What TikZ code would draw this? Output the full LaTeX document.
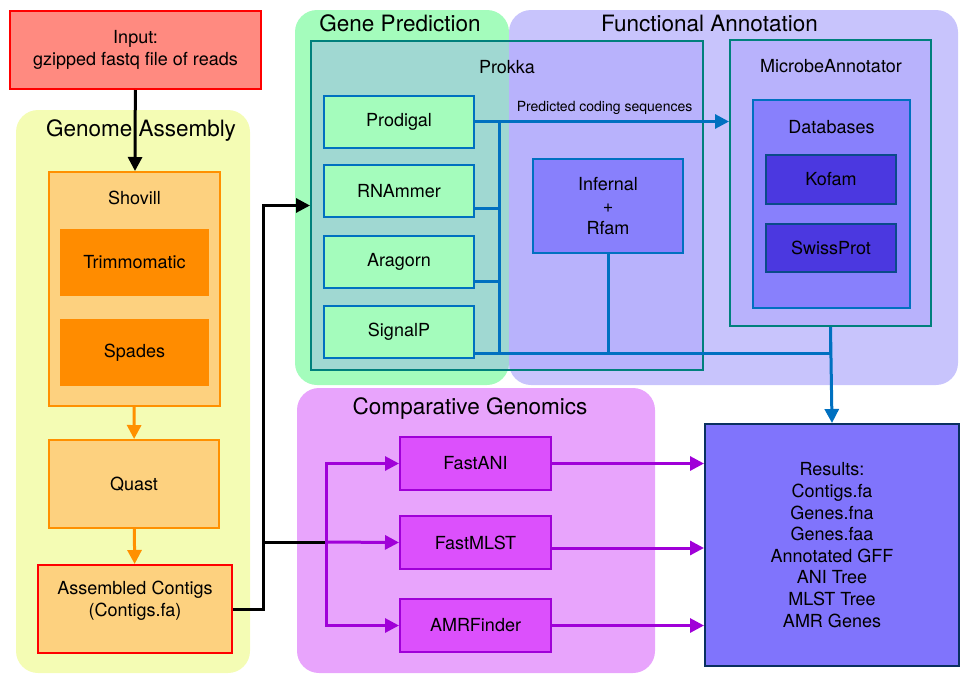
\documentclass[tikz,border=0pt]{standalone}
\usepackage{fontspec}
\setmainfont{TeX Gyre Heros}
\usetikzlibrary{arrows.meta}

\definecolor{inputfill}{HTML}{FF8A80}
\definecolor{asmfill}{HTML}{F4FCB4}
\definecolor{peach}{HTML}{FDD17F}
\definecolor{orangeline}{HTML}{FF9000}
\definecolor{darkorange}{HTML}{FF8C00}
\definecolor{genefill}{HTML}{A4FCBC}
\definecolor{funcfill}{HTML}{C8C4FC}
\definecolor{prokkafill}{HTML}{9890FF}
\definecolor{tealline}{HTML}{00807C}
\definecolor{blueline}{HTML}{0070C0}
\definecolor{infernalfill}{HTML}{8880FC}
\definecolor{dbfill}{HTML}{4B38E0}
\definecolor{dbline}{HTML}{0A4A8A}
\definecolor{compfill}{HTML}{E8A4FC}
\definecolor{toolfill}{HTML}{DC50FC}
\definecolor{purpleline}{HTML}{A000D8}
\definecolor{resultfill}{HTML}{8074FC}
\definecolor{navyline}{HTML}{0A3060}

\begin{document}
\begin{tikzpicture}[x=1pt, y=-1pt,
    box/.style={draw, line width=2pt, inner sep=0pt, align=center,
      font=\fontsize{18}{21.6}\selectfont},
    frame/.style={draw=tealline, line width=2pt, fill=prokkafill,
      fill opacity=0.33, inner sep=0pt},
    region/.style={rounded corners=22pt},
    grouptitle/.style={font=\fontsize{22.5}{27}\selectfont},
    caption/.style={align=center, font=\fontsize{18}{21.6}\selectfont},
    flowtip/.style={-{Triangle[length=14pt,width=14pt]}},
    blk/.style={line width=3pt, black},
    blu/.style={line width=3pt, blueline},
    prp/.style={line width=3pt, purpleline},
    org/.style={line width=3pt, orangeline}]
  \useasboundingbox (0,0) rectangle (979,683);

  % input
  \node[box, draw=red, fill=inputfill, minimum width=251pt, minimum height=78pt] (input) at (135.5,50) {Input:\\gzipped fastq file of reads};

  % genome assembly
  \fill[asmfill, region] (16,110) rectangle (250,673);
  \node[grouptitle] (asmtitle) at (141,131) {Genome Assembly};
  \node[box, draw=orangeline, fill=peach, minimum width=171pt, minimum height=234pt] (shovill) at (134.5,289) {};
  \node[caption] (shovilltitle) at (134.5,198) {Shovill};
  \node[box, draw=none, fill=darkorange, minimum width=149pt, minimum height=67pt] (trim) at (134.5,262.5) {Trimmomatic};
  \node[box, draw=none, fill=darkorange, minimum width=149pt, minimum height=67pt] (spades) at (134.5,352.5) {Spades};
  \node[box, draw=orangeline, fill=peach, minimum width=170pt, minimum height=88pt] (quast) at (134,484) {Quast};
  \node[box, draw=red, fill=peach, minimum width=194pt, minimum height=88pt] (contigs) at (135,609) {};
  \node[caption] (contigstext) at (135,601) {Assembled Contigs\\(Contigs.fa)};

  % gene prediction and functional annotation
  \fill[genefill, region] (295,10) rectangle (509,385);
  \fill[funcfill, region] (509,10) rectangle (958,385);
  \node[grouptitle] (genetitle) at (400,23) {Gene Prediction};
  \node[grouptitle] (functitle) at (709.5,23) {Functional Annotation};

  \node[frame, minimum width=392pt, minimum height=329pt] (prokka) at (507,205.5) {};
  \node[caption] (prokkatitle) at (507,67) {Prokka};
  \node[box, draw=blueline, fill=genefill, minimum width=150pt, minimum height=52pt] (prodigal) at (399,121.5) {Prodigal};
  \node[box, draw=blueline, fill=genefill, minimum width=150pt, minimum height=52pt] (rnammer) at (399,191) {RNAmmer};
  \node[box, draw=blueline, fill=genefill, minimum width=150pt, minimum height=52pt] (aragorn) at (399,262) {Aragorn};
  \node[box, draw=blueline, fill=genefill, minimum width=150pt, minimum height=52pt] (signalp) at (399,332) {SignalP};
  \node[box, draw=blueline, fill=infernalfill, minimum width=150pt, minimum height=94pt] (infernal) at (608,206) {Infernal\\+\\Rfam};

  \node[frame, minimum width=201pt, minimum height=286pt] (microbe) at (830.5,183) {};
  \node[caption] (microbetitle) at (831,66) {MicrobeAnnotator};
  \node[box, draw=blueline, fill=infernalfill, minimum width=157pt, minimum height=208pt] (databases) at (831.5,204) {};
  \node[caption] (dbtitle) at (831.5,127) {Databases};
  \node[box, draw=dbline, fill=dbfill, minimum width=130pt, minimum height=49pt] (kofam) at (831,179.5) {Kofam};
  \node[box, draw=dbline, fill=dbfill, minimum width=130pt, minimum height=48pt] (swissprot) at (831,248) {SwissProt};

  % comparative genomics
  \fill[compfill, region] (297,388) rectangle (655,673);
  \node[grouptitle] (comptitle) at (470,409) {Comparative Genomics};
  \node[box, draw=purpleline, fill=toolfill, minimum width=151pt, minimum height=53pt] (fastani) at (475.5,463.5) {FastANI};
  \node[box, draw=purpleline, fill=toolfill, minimum width=151pt, minimum height=53pt] (fastmlst) at (475.5,542.5) {FastMLST};
  \node[box, draw=purpleline, fill=toolfill, minimum width=151pt, minimum height=53pt] (amrfinder) at (475.5,625.5) {AMRFinder};

  % results
  \node[box, draw=navyline, fill=resultfill, minimum width=254pt, minimum height=242pt] (results) at (832,545) {Results:\\Contigs.fa\\Genes.fna\\Genes.faa\\Annotated GFF\\ANI Tree\\MLST Tree\\AMR Genes};

  % connectors
  \draw[blk, flowtip] (input) -- (shovill);
  \draw[org, flowtip] (shovill) -- (quast);
  \draw[org, flowtip] (quast) -- (contigs);

  \coordinate (hub) at (263,542);
  \coordinate (cgbus) at (326,542);
  \draw[blk, flowtip] (contigs.east) -| (hub) |- (prokka.west);
  \draw[blk] (hub) -- (cgbus);

  \draw[prp, flowtip] (cgbus |- amrfinder.west) |- (fastani.west);
  \draw[prp, flowtip] (cgbus) -- (fastmlst.west);
  \draw[prp, flowtip, line cap=rect] (cgbus |- amrfinder.west) -- (amrfinder.west);
  \draw[prp, flowtip] (fastani.east) -- (fastani.east -| results.west);
  \draw[prp, flowtip] ([yshift=-5.5pt]fastmlst.east) -- ([yshift=-5.5pt]fastmlst.east -| results.west);
  \draw[prp, flowtip] (amrfinder.east) -- (amrfinder.east -| results.west);

  \coordinate (busbot) at (499,352);
  \draw[blu] (prodigal.east) -| (busbot);
  \draw[blu, flowtip] (prodigal.east) -- (prodigal.east -| microbe.west)
    node[pos=0.51, above=5pt, inner sep=0pt, text=black, font=\fontsize{14}{16}\selectfont] (cdslabel) {Predicted coding sequences};
  \draw[blu] ([yshift=10pt]rnammer.south east) -- ([yshift=10pt]rnammer.south east -| busbot);
  \draw[blu] ([yshift=8pt]aragorn.south east) -- ([yshift=8pt]aragorn.south east -| busbot);
  \draw[blu] ([yshift=6pt]signalp.south east) -| (microbe.south);
  \draw[blu] (infernal.south) -- (infernal.south |- busbot);
  \draw[blu, flowtip] (microbe.south) -- (results.north);
\end{tikzpicture}
\end{document}
